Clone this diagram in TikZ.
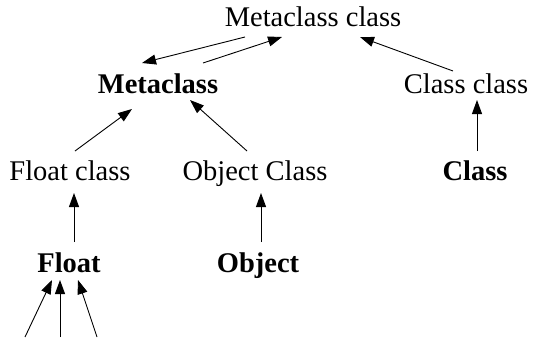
\documentclass[tikz,border=0pt]{standalone}
\usepackage{fontspec}
\setmainfont{Liberation Serif}
\usetikzlibrary{arrows.meta,calc}
\begin{document}
\begin{tikzpicture}[x=1pt,y=-1pt,
    lbl/.style={anchor=base,inner sep=0pt,font=\fontsize{28.5}{33}\selectfont},
    blbl/.style={lbl,font=\fontsize{28.5}{33}\selectfont\bfseries},
    arr/.style={line width=0.9pt,-{Triangle[length=14pt,width=10pt]}}]
  \useasboundingbox (0,0) rectangle (534,337);
  % class hierarchy labels
  \node[lbl]  (mcc)  at (313,27)  {Metaclass class};
  \node[blbl] (meta) at (158,93)  {Metaclass};
  \node[lbl]  (cc)   at (466,93)  {Class class};
  \node[lbl]  (fc)   at (70,180)  {Float class};
  \node[lbl]  (oc)   at (255,180) {Object Class};
  \node[blbl] (cls)  at (475,180) {Class};
  \node[blbl] (flt)  at (69,272)  {Float};
  \node[blbl] (obj)  at (258,272) {Object};
  % loose ends feeding into Float
  \coordinate (in1) at (25,337);
  \coordinate (in2) at (60,337);
  \coordinate (in3) at (97,337);
  % instance-of / subclass links
  \draw[arr] ($(mcc.base)+(-68,10)$) -- ($(meta.base)+(-16,-30)$);
  \draw[arr] ($(meta.base)+(45,-30)$) -- ($(mcc.base)+(-31,10)$);
  \draw[arr] ($(cc.base)+(-13,-22)$) -- ($(mcc.base)+(47,10)$);
  \draw[arr] ($(cls.base)+(2,-29)$) -- ($(cc.base)+(11,7)$);
  \draw[arr] ($(fc.base)+(5,-29)$) -- ($(meta.base)+(-26,16)$);
  \draw[arr] ($(oc.base)+(-8,-29)$) -- ($(meta.base)+(32,7)$);
  \draw[arr] ($(flt.base)+(5,-30)$) -- ($(fc.base)+(4,13)$);
  \draw[arr] ($(obj.base)+(3,-30)$) -- ($(oc.base)+(6,13)$);
  \draw[arr] (in1) -- ($(flt.base)+(-17,8)$);
  \draw[arr] (in2) -- ($(flt.base)+(-9,8)$);
  \draw[arr] (in3) -- ($(flt.base)+(9,8)$);
\end{tikzpicture}
\end{document}
